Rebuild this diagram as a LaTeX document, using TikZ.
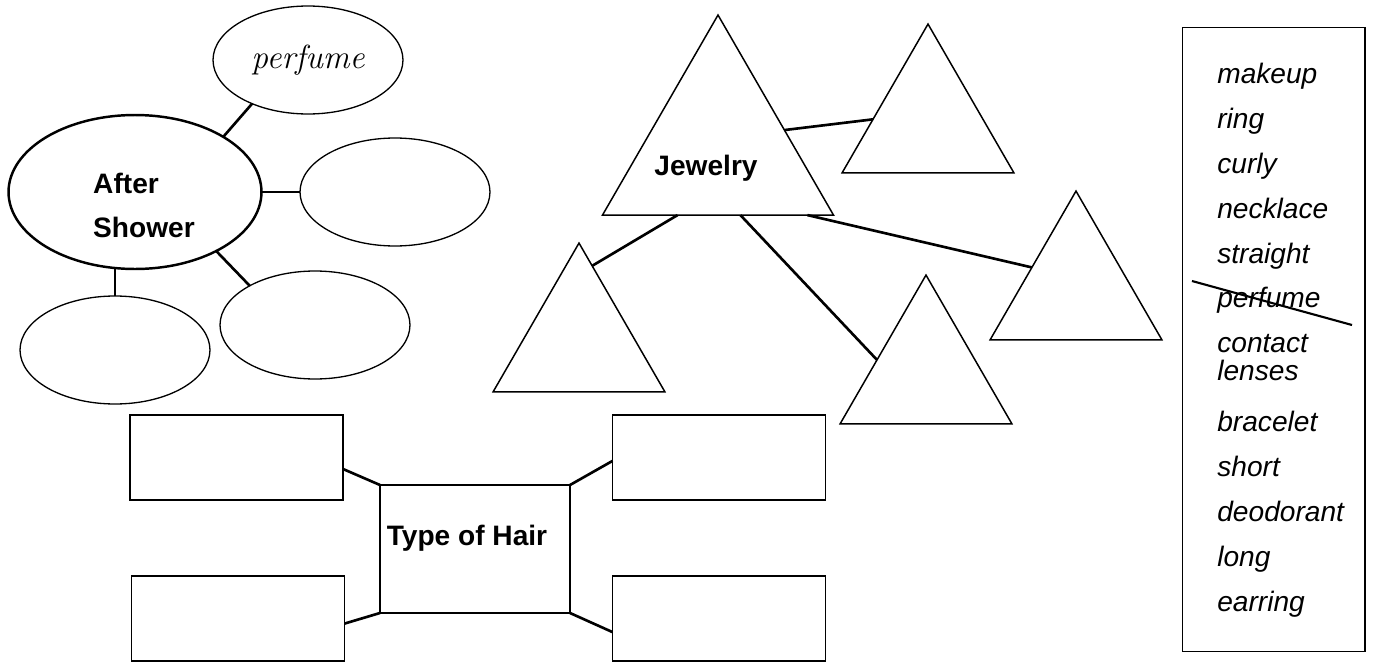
\documentclass[tikz,border=0pt]{standalone}
\usepackage{fontspec}
\newfontfamily\hfont{Liberation Sans}
\usepackage{tikz}
\usetikzlibrary{calc,positioning,shapes}

\begin{document}
\begin{tikzpicture}[x=0.02cm,y=-0.02cm,
  blob/.style={ellipse,draw,line width=0.75pt,minimum width=3.8cm,minimum height=2.16cm,inner sep=0pt,outer sep=0pt},
  tri/.style={regular polygon,regular polygon sides=3,draw,line width=0.85pt,inner sep=0pt,outer sep=0pt,minimum size=3.97cm},
  box/.style={rectangle,draw,line width=0.85pt,minimum width=4.26cm,minimum height=1.7cm,inner sep=0pt,outer sep=0pt},
  bold/.style={font=\hfont\bfseries\fontsize{16}{25}\selectfont,inner sep=0pt},
  word/.style={font=\hfont\itshape\fontsize{16}{19}\selectfont,anchor=base west,inner sep=0pt},
  link/.style={line width=1.5pt}]

  \useasboundingbox (0,0) rectangle (1377,663);

  % after shower
  \node[blob,line width=1.4pt,minimum width=5.06cm,minimum height=3.08cm] (as) at (135,192) {};
  \node[bold,align=left] (astxt) at (144,205) {After\\Shower};
  \node[blob] (p1) at (308,60) {\itshape\fontsize{19}{19}\selectfont perfume};
  \node[blob] (p2) at (395,192) {};
  \node[blob] (p3) at (315,325) {};
  \node[blob] (p4) at (115,350) {};
  \draw[link] (as.32) -- (p1.218);
  \draw[link] (as.east) -- (p2.west);
  \draw[link] (p4.north) -- (p4.north |- as.south);
  \draw[link] (as.-36) -- (p3.149);

  % jewelry
  \node[tri,minimum size=5.336cm] (jw) at (718,148.4) {};
  \node[bold] (jwtxt) at (706,168) {Jewelry};
  \node[tri] (t1) at (928,123.3) {};
  \node[tri] (t2) at (1076,290.3) {};
  \node[tri] (t3) at (926,374.3) {};
  \node[tri] (t4) at (579,342.3) {};
  \draw[link] ($(jw.corner 1)!0.575!(jw.corner 3)$) -- ($(t1.corner 1)!0.64!(t1.corner 2)$);
  \draw[link] ($(jw.corner 2)!0.325!(jw.corner 3)$) -- ($(t4.corner 1)!0.153!(t4.corner 3)$);
  \draw[link] ($(jw.corner 2)!0.597!(jw.corner 3)$) -- ($(t3.corner 1)!0.57!(t3.corner 2)$);
  \draw[link] ($(jw.corner 2)!0.887!(jw.corner 3)$) -- ($(t2.corner 1)!0.513!(t2.corner 2)$);

  % type of hair
  \node[box,line width=1.4pt,minimum width=3.8cm,minimum height=2.56cm] (hr) at (475,549) {};
  \node[bold] (hrtxt) at (467,538) {Type of Hair};
  \node[box] (r1) at (236.5,457.5) {};
  \node[box] (r2) at (719,457.5) {};
  \node[box] (r3) at (238,618.5) {};
  \node[box] (r4) at (719,618.5) {};
  \draw[link] ($(r1.south east)!0.365!(r1.north east)$) -- (hr.north west);
  \draw[link] (hr.north east) -- ($(r2.south west)!0.46!(r2.north west)$);
  \draw[link] (hr.south west) -- ($(r3.north east)!0.56!(r3.south east)$);
  \draw[link] (hr.south east) -- ($(r4.north west)!0.66!(r4.south west)$);

  % word list
  \node[draw,line width=0.6pt,minimum width=3.66cm,minimum height=12.5cm,inner sep=0pt,outer sep=0pt] (wl) at (1273.5,339.5) {};
  \node[word] (w1) at (1217,83) {makeup};
  \node[word] (w2) at (1217,128) {ring};
  \node[word] (w3) at (1217,173) {curly};
  \node[word] (w4) at (1217,218) {necklace};
  \node[word] (w5) at (1217,263) {straight};
  \node[word] (w6) at (1217,307) {perfume};
  \node[word] (w7) at (1217,352) {contact};
  \node[word] (w8) at (1217,380) {lenses};
  \node[word] (w9) at (1217,431) {bracelet};
  \node[word] (w10) at (1217,476) {short};
  \node[word] (w11) at (1217,521) {deodorant};
  \node[word] (w12) at (1217,566) {long};
  \node[word] (w13) at (1217,611) {earring};
  \coordinate (s1) at (1192,281);
  \coordinate (s2) at (1352,325);
  \draw[line width=1.2pt] (s1) -- (s2);
\end{tikzpicture}
\end{document}
